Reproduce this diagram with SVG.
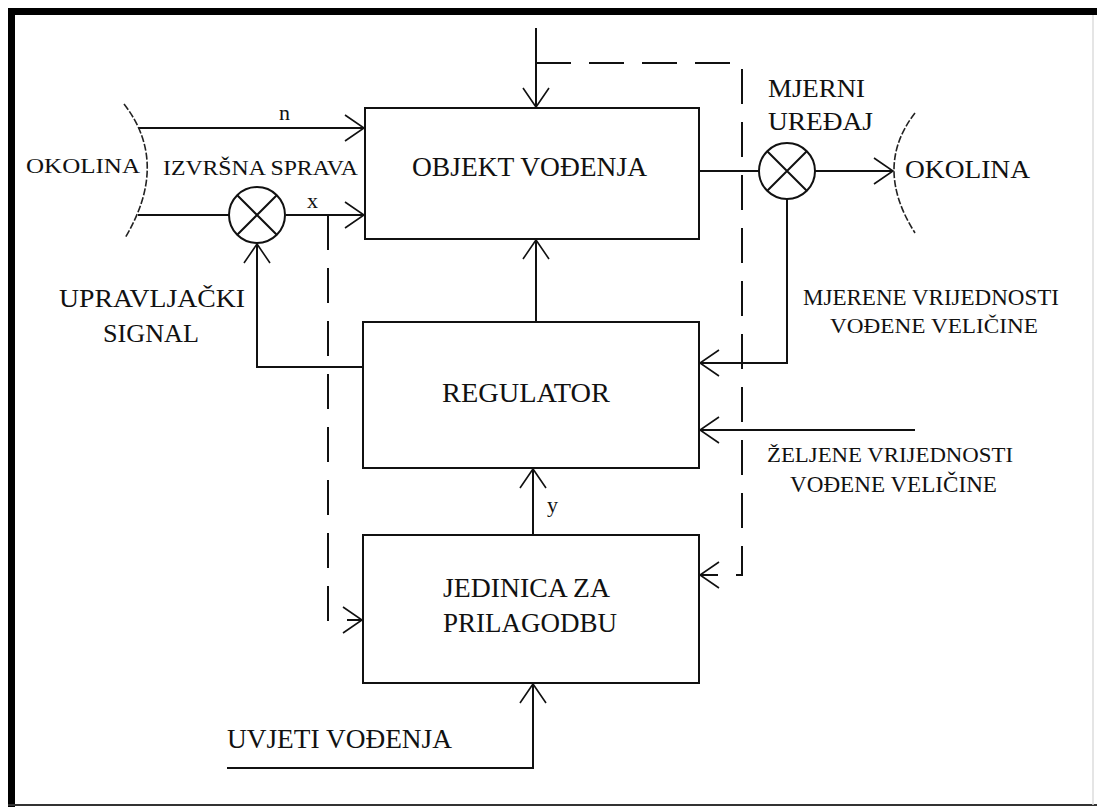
<svg xmlns="http://www.w3.org/2000/svg" width="1097" height="807" viewBox="0 0 1097 807">
<style>
text{font-family:"Liberation Serif","Times New Roman",serif;fill:#111}
.box{fill:#fff;stroke:#111;stroke-width:2}
.ln{fill:none;stroke:#111;stroke-width:2}
.dash{fill:none;stroke:#111;stroke-width:2;stroke-dasharray:35 18}
.brk{fill:none;stroke:#222;stroke-width:1.6;stroke-dasharray:7 2}
</style>
<defs>
<marker id="arr" markerUnits="userSpaceOnUse" markerWidth="24" markerHeight="32" viewBox="-21 -16 24 32" refX="0" refY="0" orient="auto">
<path d="M-19,-13 L0,0 L-19,13" fill="none" stroke="#111" stroke-width="1.6"/>
</marker>
</defs>
<rect width="1097" height="807" fill="#fff"/>
<g id="frame">
<rect x="8" y="8" width="1089" height="7" fill="#000"/>
<rect x="8" y="8" width="7" height="799" fill="#000"/>
<line x1="8" y1="805" x2="1097" y2="805" stroke="#333" stroke-width="2"/>
<line x1="1093" y1="15" x2="1093" y2="805" stroke="#ddd" stroke-width="1.5"/>
</g>
<g id="connectors">
<path class="ln" d="M138,128 H364" marker-end="url(#arr)"/>
<path class="ln" d="M138,215 H229"/>
<path class="ln" d="M286,215 H364" marker-end="url(#arr)"/>
<path class="ln" d="M536,28 V107" marker-end="url(#arr)"/>
<path class="dash" d="M536,63 H742 V575 H700" marker-end="url(#arr)"/>
<path class="dash" d="M328,215 V620 H362" marker-end="url(#arr)"/>
<path class="ln" d="M536,322 V240" marker-end="url(#arr)"/>
<path class="ln" d="M363,367 H257 V244" marker-end="url(#arr)"/>
<path class="ln" d="M699,171 H759"/>
<path class="ln" d="M815,171 H893" marker-end="url(#arr)"/>
<path class="ln" d="M787,199 V363 H700" marker-end="url(#arr)"/>
<path class="ln" d="M915,430 H700" marker-end="url(#arr)"/>
<path class="ln" d="M533,535 V469" marker-end="url(#arr)"/>
<path class="ln" d="M227,768 H533 V684" marker-end="url(#arr)"/>
</g>
<g id="okolina-left">
<path class="brk" d="M124,104 Q170,163 125,238"/>
<text x="26" y="173" font-size="22" textLength="114" lengthAdjust="spacingAndGlyphs">OKOLINA</text>
</g>
<g id="izvrsna-sprava">
<circle cx="257" cy="215" r="28" class="ln"/>
<path class="ln" d="M237,195 L277,235 M277,195 L237,235"/>
<text x="163" y="175" font-size="22" textLength="195" lengthAdjust="spacingAndGlyphs">IZVRŠNA SPRAVA</text>
</g>
<g id="labels-nx">
<text x="279" y="120" font-size="22">n</text>
<text x="307" y="208" font-size="22">x</text>
<text x="547" y="512" font-size="22">y</text>
</g>
<g id="objekt">
<rect x="365" y="108" width="334" height="131" class="box"/>
<text x="412" y="176" font-size="27" textLength="235" lengthAdjust="spacingAndGlyphs">OBJEKT VOĐENJA</text>
</g>
<g id="mjerni-uredaj">
<circle cx="787" cy="171" r="28" class="ln"/>
<path class="ln" d="M767,151 L807,191 M807,151 L767,191"/>
<text x="768" y="97" font-size="26" textLength="97" lengthAdjust="spacingAndGlyphs">MJERNI</text>
<text x="768" y="130" font-size="26" textLength="105" lengthAdjust="spacingAndGlyphs">UREĐAJ</text>
</g>
<g id="okolina-right">
<path class="brk" d="M915,113 Q873,167 915,233"/>
<text x="905" y="178" font-size="25" textLength="125" lengthAdjust="spacingAndGlyphs">OKOLINA</text>
</g>
<g id="upravljacki-signal">
<text x="59" y="307" font-size="25" textLength="186" lengthAdjust="spacingAndGlyphs">UPRAVLJAČKI</text>
<text x="103" y="342" font-size="25" textLength="96" lengthAdjust="spacingAndGlyphs">SIGNAL</text>
</g>
<g id="regulator">
<rect x="363" y="322" width="336" height="146" class="box"/>
<text x="442" y="402" font-size="27" textLength="168" lengthAdjust="spacingAndGlyphs">REGULATOR</text>
</g>
<g id="mjerene">
<text x="803" y="305" font-size="24" textLength="256" lengthAdjust="spacingAndGlyphs">MJERENE VRIJEDNOSTI</text>
<text x="830" y="333" font-size="22" textLength="208" lengthAdjust="spacingAndGlyphs">VOĐENE VELIČINE</text>
</g>
<g id="zeljene">
<text x="767" y="462" font-size="22" textLength="246" lengthAdjust="spacingAndGlyphs">ŽELJENE VRIJEDNOSTI</text>
<text x="790" y="492" font-size="23" textLength="207" lengthAdjust="spacingAndGlyphs">VOĐENE VELIČINE</text>
</g>
<g id="jedinica">
<rect x="363" y="535" width="336" height="148" class="box"/>
<text x="443" y="597" font-size="27" textLength="167" lengthAdjust="spacingAndGlyphs">JEDINICA ZA</text>
<text x="443" y="632" font-size="27" textLength="174" lengthAdjust="spacingAndGlyphs">PRILAGODBU</text>
</g>
<g id="uvjeti">
<text x="227" y="748" font-size="27" textLength="225" lengthAdjust="spacingAndGlyphs">UVJETI VOĐENJA</text>
</g>
</svg>
